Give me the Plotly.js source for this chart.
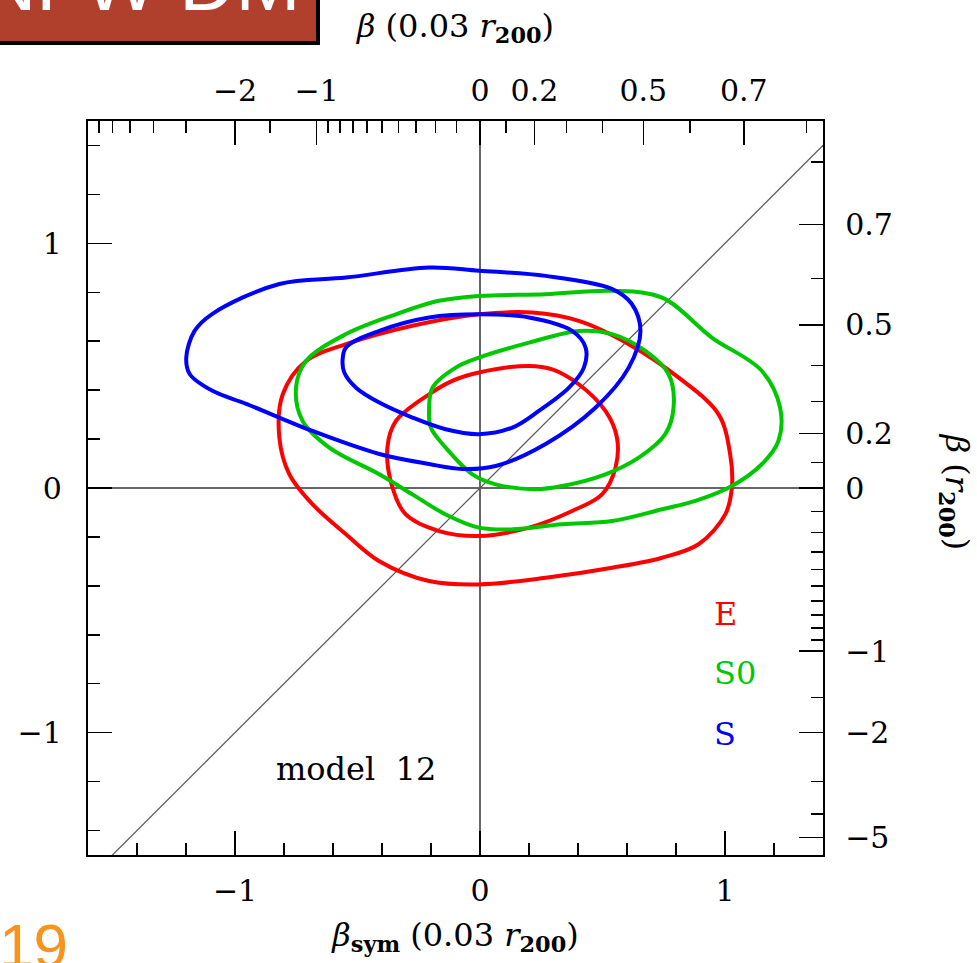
<!DOCTYPE html>
<html>
<head>
<meta charset="utf-8">
<script src="https://cdn.plot.ly/plotly-3.0.1.min.js"></script>
<style>
  html, body { margin: 0; padding: 0; background: #ffffff; }
  #chart { width: 977px; height: 963px; }
</style>
</head>
<body>
<div id="chart"></div>
<script>
// ---------- data ----------
// E galaxies (red)
const eOuterX = [-0.004, 0.213, 0.403, 0.607, 0.811, 0.974, 1.021, 1.028, 1.001, 0.892, 0.743, 0.539, 0.268, -0.004, -0.208, -0.411, -0.547, -0.683, -0.778, -0.819, -0.805, -0.710, -0.547, -0.276, -0.004];
const eOuterY = [0.710, 0.717, 0.683, 0.588, 0.451, 0.301, 0.138, 0.001, -0.108, -0.230, -0.285, -0.326, -0.367, -0.394, -0.380, -0.299, -0.189, -0.067, 0.056, 0.206, 0.383, 0.519, 0.588, 0.663, 0.710];
const eInnerX = [-0.004, 0.200, 0.295, 0.403, 0.512, 0.559, 0.553, 0.498, 0.376, 0.200, -0.004, -0.167, -0.303, -0.357, -0.378, -0.343, -0.208, -0.113, -0.004];
const eInnerY = [0.472, 0.499, 0.485, 0.424, 0.315, 0.206, 0.083, -0.026, -0.094, -0.162, -0.196, -0.176, -0.108, 0.001, 0.165, 0.274, 0.383, 0.438, 0.472];
// S0 galaxies (green)
const s0OuterX = [-0.004, 0.268, 0.539, 0.743, 0.946, 1.150, 1.225, 1.218, 1.150, 1.028, 0.879, 0.743, 0.539, 0.335, 0.132, -0.004, -0.140, -0.276, -0.411, -0.615, -0.724, -0.751, -0.710, -0.547, -0.343, -0.167, -0.004];
const s0OuterY = [0.785, 0.792, 0.806, 0.778, 0.615, 0.479, 0.328, 0.192, 0.097, 0.008, -0.053, -0.087, -0.135, -0.148, -0.169, -0.162, -0.108, -0.026, 0.056, 0.165, 0.274, 0.410, 0.519, 0.629, 0.710, 0.765, 0.785];
const s0InnerX = [-0.004, 0.200, 0.403, 0.539, 0.675, 0.770, 0.790, 0.756, 0.648, 0.512, 0.335, 0.227, 0.064, -0.031, -0.140, -0.201, -0.208, -0.194, -0.099, -0.004];
const s0InnerY = [0.533, 0.594, 0.642, 0.629, 0.560, 0.465, 0.328, 0.220, 0.124, 0.056, 0.008, -0.005, 0.015, 0.056, 0.165, 0.247, 0.315, 0.410, 0.492, 0.533];
// S galaxies (blue)
const sOuterX = [-1.199, -1.185, -1.092, -0.954, -0.819, -0.684, -0.411, -0.208, -0.073, 0.064, 0.268, 0.471, 0.607, 0.655, 0.619, 0.538, 0.268, -0.004, -0.208, -0.547, -0.819, -1.092, -1.165, -1.199];
const sOuterY = [0.533, 0.466, 0.397, 0.344, 0.288, 0.233, 0.139, 0.098, 0.078, 0.090, 0.180, 0.328, 0.492, 0.642, 0.753, 0.814, 0.867, 0.888, 0.901, 0.860, 0.834, 0.712, 0.642, 0.533];
const sInnerX = [-0.561, -0.547, -0.411, -0.208, -0.004, 0.200, 0.376, 0.431, 0.424, 0.363, 0.240, 0.132, -0.004, -0.140, -0.276, -0.411, -0.506, -0.554, -0.561];
const sInnerY = [0.519, 0.574, 0.642, 0.697, 0.710, 0.697, 0.642, 0.574, 0.492, 0.410, 0.315, 0.247, 0.220, 0.240, 0.288, 0.349, 0.410, 0.472, 0.519];

// one-to-one reference line
const oneToOne = [-2, 2];

// secondary (beta) axis tick labels
const topMajorBeta = [-2, -1, 0, 0.2, 0.5, 0.7];
const topMajorText = ["\u22122", "\u22121", "0", "0.2", "0.5", "0.7"];
const topMinorBeta = [-7, -6, -5, -4, -3, -1.5, -0.9, -0.8, -0.7, -0.6, -0.5, -0.4, -0.3, -0.2, -0.1, 0.1, 0.3, 0.4, 0.6, 0.8];
const rightMajorBeta = [-5, -2, -1, 0, 0.2, 0.5, 0.7];
const rightMajorText = ["\u22125", "\u22122", "\u22121", "0", "0.2", "0.5", "0.7"];
const rightMinorBeta = [-4, -3, -1.5, -0.9, -0.8, -0.7, -0.6, -0.5, -0.4, -0.3, -0.2, -0.1, 0.1, 0.3, 0.4, 0.6, 0.8];

// legend labels
const classNames = ["E", "S0", "S"];
const classColors = ["#ff0000", "#00c800", "#0000ff"];

// ---------- build ----------
const betaSym = b => 2 * b / (2 - b);   // axis transform beta -> beta_sym

const FONT = "DejaVu Serif, serif";
const lw = 4;
function contour(x, y, color) {
  return { x: x, y: y, type: "scatter", mode: "lines", xaxis: "x", yaxis: "y",
           line: { color: color, width: lw, shape: "spline", smoothing: 1 },
           hoverinfo: "skip", showlegend: false };
}

const traces = [
  { x: oneToOne, y: oneToOne, type: "scatter", mode: "lines", line: { color: "#555555", width: 1.2 },
    hoverinfo: "skip", showlegend: false },
  contour(eOuterX, eOuterY, classColors[0]),
  contour(eInnerX, eInnerY, classColors[0]),
  contour(s0OuterX, s0OuterY, classColors[1]),
  contour(s0InnerX, s0InnerY, classColors[1]),
  contour(sOuterX, sOuterY, classColors[2]),
  contour(sInnerX, sInnerY, classColors[2]),
  // invisible trace to activate secondary axes
  { x: [0], y: [0], xaxis: "x2", yaxis: "y2", type: "scatter", mode: "markers",
    marker: { opacity: 0 }, hoverinfo: "skip", showlegend: false }
];

const TS = 30;   // tick label size
const LS = 32;   // title / label size
const tickFont = { family: FONT, size: TS, color: "#000" };
const common = {
  range: [-1.6, 1.4], showgrid: false, ticks: "inside", ticklen: 24, tickwidth: 1.5,
  tickcolor: "#000", showline: true, linecolor: "#000", linewidth: 2.2, tickfont: tickFont,
  fixedrange: true
};

const layout = {
  width: 977, height: 963,
  margin: { l: 88, r: 154, t: 121, b: 108, pad: 0 },
  paper_bgcolor: "#ffffff", plot_bgcolor: "#ffffff",
  showlegend: false,
  xaxis: Object.assign({}, common, {
    range: [-1.6, 1.4], dtick: 1, tick0: 0, zeroline: true, zerolinecolor: "#666666", zerolinewidth: 1.5,
    ticklabelstandoff: 8,
    minor: { dtick: 0.2, tick0: 0, ticks: "inside", ticklen: 12, tickwidth: 1.5, tickcolor: "#000" },
    title: { text: "<i>\u03b2</i><sub><b>sym</b></sub> (0.03 <i>r</i><sub><b>200</b></sub>)",
             font: { family: FONT, size: LS, color: "#000" }, standoff: 16 }
  }),
  yaxis: Object.assign({}, common, {
    range: [-1.5, 1.5], dtick: 1, tick0: 0, zeroline: true, zerolinecolor: "#666666", zerolinewidth: 1.5,
    ticklabelstandoff: 18,
    minor: { dtick: 0.2, tick0: 0, ticks: "inside", ticklen: 12, tickwidth: 1.5, tickcolor: "#000" }
  }),
  xaxis2: Object.assign({}, common, {
    overlaying: "x", side: "top", anchor: "y", zeroline: false,
    tickmode: "array", tickvals: topMajorBeta.map(betaSym), ticktext: topMajorText,
    ticklabelstandoff: 6,
    minor: { tickmode: "array", tickvals: topMinorBeta.map(betaSym), ticks: "inside", ticklen: 12, tickwidth: 1.5, tickcolor: "#000" },
    title: { text: "<i>\u03b2</i> (0.03 <i>r</i><sub><b>200</b></sub>)",
             font: { family: FONT, size: LS, color: "#000" }, standoff: 26 }
  }),
  yaxis2: Object.assign({}, common, {
    range: [-1.5, 1.5], overlaying: "y", side: "right", anchor: "x", zeroline: false,
    tickmode: "array", tickvals: rightMajorBeta.map(betaSym), ticktext: rightMajorText,
    ticklabelstandoff: 14,
    minor: { tickmode: "array", tickvals: rightMinorBeta.map(betaSym), ticks: "inside", ticklen: 12, tickwidth: 1.5, tickcolor: "#000" }
  }),
  shapes: [
    { type: "rect", xref: "paper", yref: "paper", x0: -0.13, x1: 0.3129, y0: 1.1063, y1: 1.2,
      fillcolor: "#b0402c", line: { color: "#000", width: 4 }, layer: "above" }
  ],
  annotations: [
    { xref: "paper", yref: "paper", x: 1.1796, y: 0.495, xanchor: "center", yanchor: "middle",
      text: "<i>\u03b2</i> (<i>r</i><sub><b>200</b></sub>)",
      textangle: 90, showarrow: false, font: { family: FONT, size: LS, color: "#000" } },
    { xref: "x", yref: "y", x: -0.839, y: -1.149, xanchor: "left", yanchor: "middle", text: "model  12",
      showarrow: false, font: { family: FONT, size: LS, color: "#000" } },
    { xref: "x", yref: "y", x: 0.945, y: -0.515, xanchor: "left", yanchor: "middle", text: classNames[0],
      showarrow: false, font: { family: FONT, size: LS, color: classColors[0] } },
    { xref: "x", yref: "y", x: 0.945, y: -0.757, xanchor: "left", yanchor: "middle", text: classNames[1],
      showarrow: false, font: { family: FONT, size: LS, color: classColors[1] } },
    { xref: "x", yref: "y", x: 0.945, y: -1.006, xanchor: "left", yanchor: "middle", text: classNames[2],
      showarrow: false, font: { family: FONT, size: LS, color: classColors[2] } },
    { xref: "paper", yref: "paper", x: -0.15, y: 1.125, xanchor: "left", yanchor: "bottom", text: "NFW DM",
      showarrow: false, font: { family: "Liberation Sans, Arial, sans-serif", size: 78, color: "#ffffff" } },
    { xref: "paper", yref: "paper", x: -0.124, y: -0.074, xanchor: "left", yanchor: "top", text: "19",
      showarrow: false, font: { family: "Liberation Sans, Arial, sans-serif", size: 62, color: "#f7941d" } }
  ]
};

Plotly.newPlot("chart", traces, layout, { staticPlot: true, displayModeBar: false });
</script>
</body>
</html>
